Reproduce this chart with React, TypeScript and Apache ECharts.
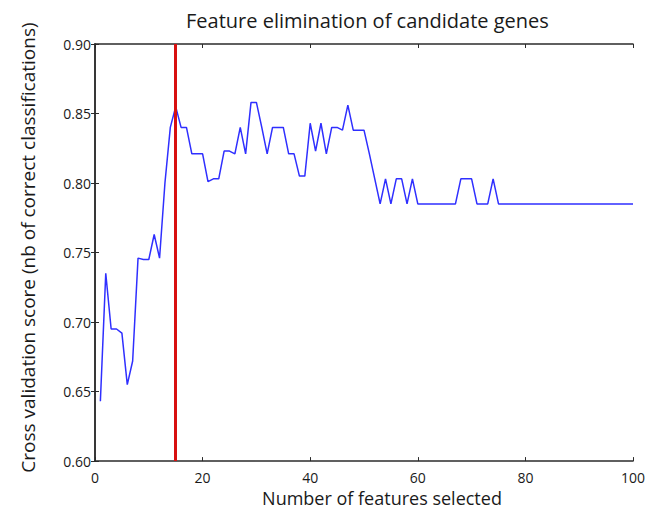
import React, { useEffect, useRef } from "react";
import * as echarts from "echarts";

const titleText = "Feature elimination of candidate genes";
const xAxisName = "Number of features selected";
const yAxisName = "Cross validation score (nb of correct classifications)";
const xTicks = [0, 20, 40, 60, 80, 100];
const yTicks = [0.6, 0.65, 0.7, 0.75, 0.8, 0.85, 0.9];
const optimalFeatures = 15;

// scores for 1..100 selected features
const scores = [
  0.643, 0.735, 0.695, 0.695, 0.692, 0.655, 0.672, 0.746, 0.745, 0.745,
  0.763, 0.746, 0.800, 0.840, 0.855, 0.840, 0.840, 0.821, 0.821, 0.821,
  0.801, 0.803, 0.803, 0.823, 0.823, 0.821, 0.840, 0.821, 0.858, 0.858,
  0.840, 0.821, 0.840, 0.840, 0.840, 0.821, 0.821, 0.805, 0.805, 0.843,
  0.823, 0.843, 0.821, 0.840, 0.840, 0.838, 0.856, 0.838, 0.838, 0.838,
  0.821, 0.803, 0.785, 0.803, 0.785, 0.803, 0.803, 0.785, 0.803, 0.785,
  0.785, 0.785, 0.785, 0.785, 0.785, 0.785, 0.785, 0.803, 0.803, 0.803,
  0.785, 0.785, 0.785, 0.803, 0.785, 0.785, 0.785, 0.785, 0.785, 0.785,
  0.785, 0.785, 0.785, 0.785, 0.785, 0.785, 0.785, 0.785, 0.785, 0.785,
  0.785, 0.785, 0.785, 0.785, 0.785, 0.785, 0.785, 0.785, 0.785, 0.785,
];

const FONT = "'Open Sans', 'DejaVu Sans', sans-serif";
const TEXT = "#1a1a1a";
const FRAME = "#2b2b2b";

export default function App() {
  const ref = useRef<HTMLDivElement>(null);

  useEffect(() => {
    if (!ref.current) return;
    const chart = echarts.init(ref.current, null, { renderer: "svg" });
    const points = scores.map((v, i) => [i + 1, v]);

    const xBase = {
      type: "value" as const,
      min: xTicks[0],
      max: xTicks[xTicks.length - 1],
      interval: 20,
      splitLine: { show: false },
      axisLine: { show: true, lineStyle: { color: FRAME, width: 1.5 } },
      axisTick: { show: true, inside: true, length: 4, lineStyle: { color: FRAME, width: 1 } },
    };
    const yBase = {
      type: "value" as const,
      min: yTicks[0],
      max: yTicks[yTicks.length - 1],
      interval: 0.05,
      splitLine: { show: false },
      axisLine: { show: true, lineStyle: { color: FRAME, width: 1.5 } },
      axisTick: { show: true, inside: true, length: 4, lineStyle: { color: FRAME, width: 1 } },
    };

    chart.setOption({
      animation: false,
      backgroundColor: "#ffffff",
      textStyle: { fontFamily: FONT },
      title: {
        text: titleText,
        left: 181,
        top: 5,
        textStyle: { fontFamily: FONT, fontSize: 20, fontWeight: "normal", color: TEXT },
      },
      grid: { left: 95, right: 27, top: 44, bottom: 43 },
      xAxis: [
        {
          ...xBase,
          position: "bottom",
          name: xAxisName,
          nameLocation: "middle",
          nameGap: 25,
          nameTextStyle: { fontFamily: FONT, fontSize: 18, color: TEXT, padding: [0, 0, 0, 36] },
          axisLabel: { show: true, margin: 9, fontFamily: FONT, fontSize: 14, color: TEXT },
        },
        {
          ...xBase,
          position: "top",
          axisLabel: { show: false },
        },
      ],
      yAxis: [
        {
          ...yBase,
          position: "left",
          name: yAxisName,
          nameLocation: "middle",
          nameGap: 58,
          nameTextStyle: { fontFamily: FONT, fontSize: 19, color: TEXT, padding: [0, 0, 0, 10] },
          axisLabel: {
            show: true,
            margin: 4,
            fontFamily: FONT,
            fontSize: 14,
            color: TEXT,
            formatter: (v: number) => v.toFixed(2),
          },
        },
        {
          ...yBase,
          position: "right",
          axisLabel: { show: false },
        },
      ],
      series: [
        {
          type: "line",
          data: points,
          xAxisIndex: 0,
          yAxisIndex: 0,
          showSymbol: false,
          symbol: "none",
          lineStyle: { color: "#2f2fff", width: 1.5 },
          z: 2,
          markLine: {
            silent: true,
            symbol: ["none", "none"],
            label: { show: false },
            lineStyle: { color: "#d81010", width: 3, type: "solid" },
            data: [{ xAxis: optimalFeatures }],
            z: 3,
          },
        },
      ],
    });

    return () => chart.dispose();
  }, []);

  return (
    <div
      ref={ref}
      style={{ position: "fixed", left: 0, top: 0, width: 660, height: 512, background: "#fff" }}
    />
  );
}
